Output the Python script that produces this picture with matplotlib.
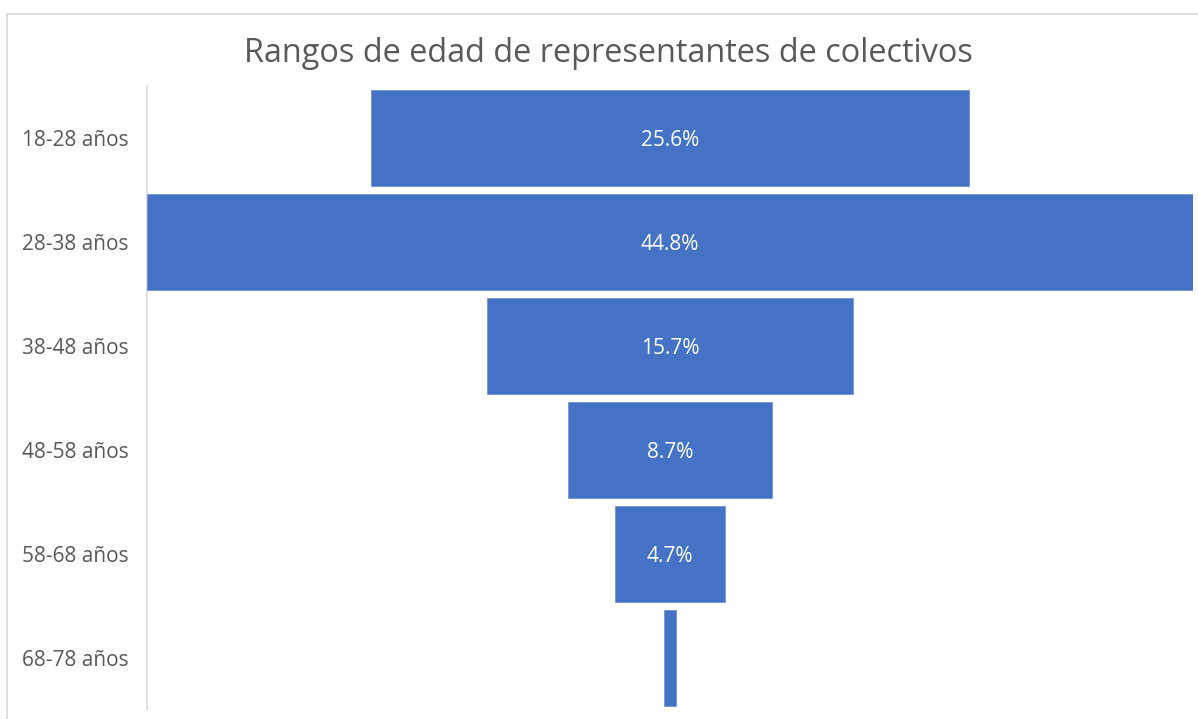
import matplotlib.pyplot as plt
from matplotlib.patches import Rectangle
import numpy as np

plt.rcParams['font.family'] = ['Open Sans', 'DejaVu Sans']

categories = ["18-28 años", "28-38 años", "38-48 años", "48-58 años", "58-68 años", "68-78 años"]
values = [25.6, 44.8, 15.7, 8.7, 4.7, 0.5]
labels = ["25.6%", "44.8%", "15.7%", "8.7%", "4.7%", ""]

BLUE = "#4472C4"
GREY = "#595959"

W, H = 1198, 719
fig = plt.figure(figsize=(W / 100, H / 100), dpi=100)

# chart border (cut off at right/bottom like the reference)
fig.patches.append(Rectangle((7 / W, -0.1), 1.2, (H - 14) / H + 0.1,
                             transform=fig.transFigure, fill=False,
                             edgecolor="#d9d9d9", linewidth=1.2))

ax = fig.add_axes([147 / W, 9 / H, (1193 - 147) / W, 624 / H])

y = np.arange(len(categories))
vals = np.array(values)
ax.barh(y, vals, left=-vals / 2, height=0.93, color=BLUE,
        edgecolor="#6f93d3", linewidth=0.6, zorder=3)

for yi, lab in zip(y, labels):
    if lab:
        ax.text(0, yi + 0.02, lab, ha="center", va="center", color="white", fontsize=15)

mx = max(values) / 2
ax.set_xlim(-mx, mx)
ax.set_ylim(len(categories) - 0.5, -0.5)
ax.set_yticks(y)
ax.set_yticklabels(categories, fontsize=15, color=GREY)
ax.tick_params(axis="y", length=0, pad=13.5)
ax.set_xticks([])
for s in ["top", "right", "bottom"]:
    ax.spines[s].set_visible(False)
ax.spines["left"].set_color("#d9d9d9")
ax.spines["left"].set_linewidth(1.2)

fig.text(608 / W, 1 - 54 / H, "Rangos de edad de representantes de colectivos",
         ha="center", va="center", fontsize=23.4, color=GREY)

fig.savefig("out.png", dpi=100)
